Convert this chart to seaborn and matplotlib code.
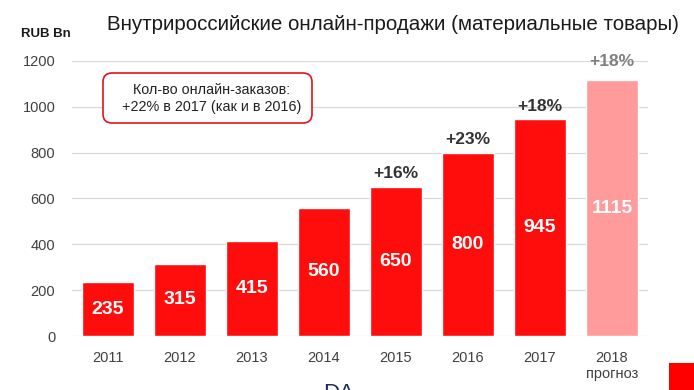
import matplotlib
matplotlib.use("Agg")
import matplotlib.pyplot as plt
from matplotlib.patches import FancyBboxPatch, Rectangle
import seaborn as sns
import pandas as pd

# ---- data ----
years = ["2011", "2012", "2013", "2014", "2015", "2016", "2017", "2018\nпрогноз"]
values = [235, 315, 415, 560, 650, 800, 945, 1115]
growth = ["", "", "", "", "+16%", "+23%", "+18%", "+18%"]
yticks = [0, 200, 400, 600, 800, 1000, 1200]
bar_colors = ["#FF0D0D"] * 7 + ["#FF9B9B"]
growth_colors = ["#333333"] * 7 + ["#808080"]

sns.set_theme(style="white")
plt.rcParams["font.family"] = ["Liberation Sans", "DejaVu Sans"]

W, H = 694, 390
fig = plt.figure(figsize=(W / 100, H / 100), dpi=100)
ax = fig.add_axes([72 / W, (H - 336) / H, (648 - 72) / W, (336 - 61) / H])

df = pd.DataFrame({"year": years, "value": values})
sns.barplot(data=df, x="year", y="value", hue="year", palette=bar_colors,
            legend=False, width=0.71, saturation=1, ax=ax, zorder=2)

ax.set_xlim(-0.5, 7.5)
ax.set_ylim(0, 1200)
ax.set_yticks(yticks)
ax.set_yticklabels([str(t) for t in yticks])
ax.set_xlabel("")
ax.set_ylabel("")
for s in ax.spines.values():
    s.set_visible(False)
ax.grid(axis="y", color="#D9D9D9", linewidth=0.9, zorder=0)
ax.set_axisbelow(True)
ax.tick_params(axis="both", length=0, labelsize=10.5, labelcolor="#404040")
ax.tick_params(axis="y", pad=12)
ax.tick_params(axis="x", pad=11)

for i, (v, g) in enumerate(zip(values, growth)):
    ax.text(i, v / 2, str(v), ha="center", va="center", color="white",
            fontsize=14, fontweight="bold", zorder=3)
    if g:
        off = 8 if i == len(values) - 1 else 4
        ax.annotate(g, (i, v), xytext=(0, off), textcoords="offset points",
                    ha="center", va="bottom", color=growth_colors[i],
                    fontsize=12.5, fontweight="bold", annotation_clip=False)

# annotation box (in inches, isotropic rounding)
box = FancyBboxPatch((1.03, 2.67), 2.09, 0.50,
                     boxstyle="round,pad=0,rounding_size=0.09",
                     transform=fig.dpi_scale_trans, facecolor="white",
                     edgecolor="#E0141E", linewidth=1.2, zorder=5)
fig.patches.append(box)
fig.text(2.12 / (W / 100), 2.915 / (H / 100),
         "Кол-во онлайн-заказов:\n+22% в 2017 (как и в 2016)",
         ha="center", va="center", fontsize=10.4, color="#222222",
         linespacing=1.3, zorder=6)

# title and unit
fig.text(107 / W, 1 - 25 / H, "Внутрироссийские онлайн-продажи (материальные товары)",
         ha="left", va="center", fontsize=14.75, color="#1A1A1A")
fig.text(21 / W, 1 - 34 / H, "RUB Bn", ha="left", va="center", fontsize=9.5,
         fontweight="bold", color="#1A1A1A",
         family=["Liberation Sans Narrow", "Liberation Sans", "DejaVu Sans"])

# bottom decorations
fig.text(323 / W, 1 - 383 / H, "DA", ha="left", va="top", fontsize=16, color="#1F2D5C")
fig.patches.append(Rectangle((669 / W, 0), 25 / W, 27 / H, transform=fig.transFigure,
                             facecolor="#FF0000", edgecolor="none"))

fig.savefig("out.png", dpi=100)
